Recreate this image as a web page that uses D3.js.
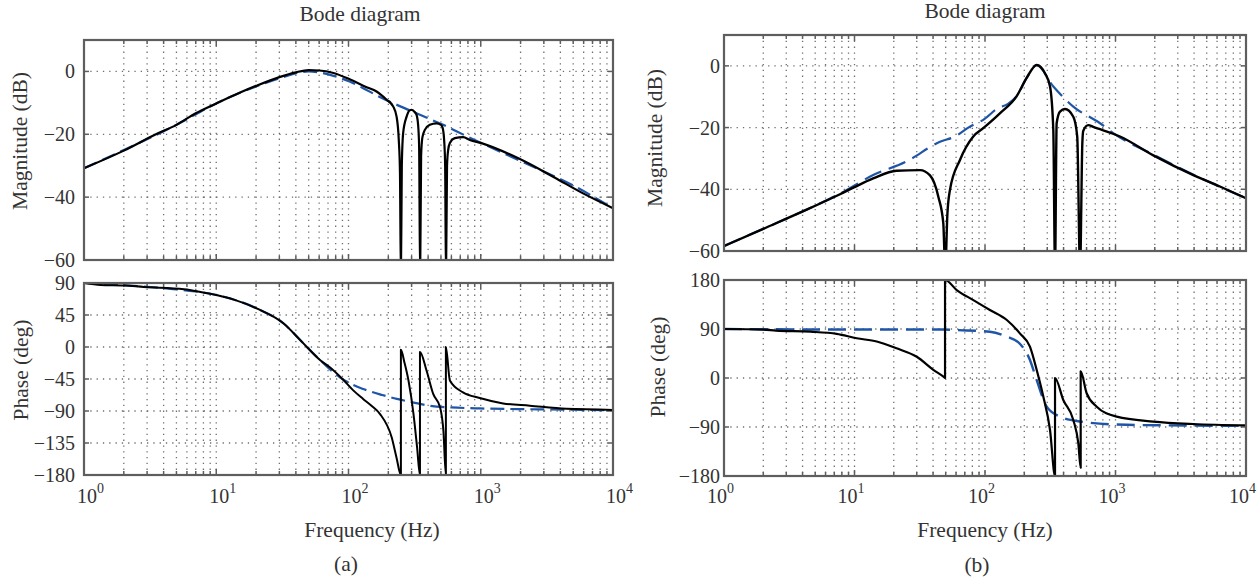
<!DOCTYPE html>
<html><head><meta charset="utf-8">
<script src="https://cdn.jsdelivr.net/npm/d3@7"></script>
<style>
body{margin:0;background:#fff}
svg{display:block}
svg text{font-family:"Liberation Serif","DejaVu Serif","Times New Roman",serif;fill:#333}
</style>
</head><body>
<svg id="chart" width="1259" height="586" font-family="Liberation Serif, DejaVu Serif, serif"></svg>
<script>
// ---------- tick labels ----------
const freqDecades = [1, 10, 100, 1000, 10000];
const decadeExp = ["0", "1", "2", "3", "4"];
const magTicks = [0, -20, -40, -60];
const phaseTicksA = [90, 45, 0, -45, -90, -135, -180];
const phaseTicksB = [180, 90, 0, -90, -180];

// ---------- panel (a) magnitude ----------
const magA_f  = [1, 2, 3.5, 5, 7, 10, 15, 20, 30, 40, 50, 60, 77, 103, 137, 163, 194, 218, 231, 240, 245, 249, 253, 259, 275, 290, 300, 315, 327, 336, 342, 348, 354, 362, 378, 412, 463, 500, 514, 529, 538, 546, 556, 567, 584, 637, 736, 827, 1013, 1977, 3524, 5940, 10000];
const magA_db = [-30.8, -25.2, -20, -17, -13.3, -10.2, -6.8, -4.6, -1.8, -0.3, 0.4, 0.3, -0.5, -2.6, -5, -6.4, -9, -11.2, -14.4, -21.8, -32, -66, -30, -19.6, -14.4, -12.4, -12.2, -12.8, -13.8, -17, -24, -66, -27, -21, -18.6, -17, -16.5, -17, -17.8, -22, -30, -66, -30, -25, -22.8, -21.2, -20.9, -21.8, -22.8, -27.9, -33.5, -38.8, -43.5];
const magA_ref_f  = [1, 2, 5, 10, 20, 30, 40, 50, 60, 77, 102, 130, 163, 220, 291, 400, 520, 781, 1000, 2000, 5000, 10000];
const magA_ref_db = [-30.8, -25, -17, -10.2, -4.8, -2.2, -0.6, 0, -0.3, -1.4, -3.2, -5.4, -7.6, -10.2, -12.4, -14.9, -17, -20.6, -22.7, -28.5, -36.3, -43.5];

// ---------- panel (a) phase ----------
const phA_f   = [1, 1.34, 2, 2.84, 5.7, 7.6, 10.2, 13.6, 20.4, 32.5, 43, 61.5, 72.3, 90, 108.6, 129, 150, 172.6, 212, 231, 249, 249, 265, 284, 310, 330, 347, 347, 389, 437, 493, 522, 545, 545, 584, 734, 983, 1477, 2350, 4448, 10000];
const phA_deg = [90, 87.2, 86.5, 84.4, 81.2, 77.4, 72.7, 66.6, 53.9, 32.7, 10, -19, -28.5, -45, -61, -73, -83, -94, -127, -156, -180, -4, -22, -47, -94, -141, -180, -7, -33, -66, -85, -118, -180, 0, -47, -63.8, -71.7, -79.3, -82.6, -87, -88.5];
const phA_ref_f   = [1, 2, 5, 10.2, 20.4, 32.5, 43, 60, 86, 100, 129, 180, 232, 300, 412, 600, 983, 2350, 10000];
const phA_ref_deg = [90, 87, 81, 73, 54, 32.7, 10, -17, -42.6, -50, -59, -67.5, -73, -77.5, -82.6, -85, -86.4, -87.5, -89];

// ---------- panel (b) magnitude ----------
const magB_f  = [1, 2, 4.3, 7.74, 10, 13.9, 21, 31.8, 37.9, 43.9, 47.9, 49.6, 51.5, 53.9, 64.3, 81.3, 97, 130, 175, 208, 249, 288, 315, 333.8, 344, 354, 375.6, 410, 475, 509, 535, 557, 566.6, 619, 676, 1083, 1950, 3947, 6310, 10000];
const magB_db = [-58.4, -52.8, -46.6, -41.6, -39.3, -36.5, -34, -33.8, -35.5, -42.4, -51, -66, -48, -40.2, -30.5, -22.9, -20.2, -15.4, -9.8, -4, 0.3, -2.4, -6.7, -20.8, -66, -18.6, -14.8, -14, -16.5, -22.9, -66, -25, -21, -19.2, -19.8, -22.9, -29, -35.4, -39.1, -42.9];
const magB_ref_f  = [1, 2, 5, 7.74, 13.9, 25, 45.2, 58.9, 76.6, 97, 126, 150, 175, 208, 249, 334, 475, 761, 960, 2000, 4000, 10000];
const magB_ref_db = [-58.4, -52.8, -45.3, -41.4, -35.4, -31, -24.6, -22.9, -19.7, -17.5, -13.7, -12.3, -9.8, -4, 0.2, -6.7, -13.2, -18.6, -21.8, -29, -35.4, -42.9];

// ---------- panel (b) phase ----------
const phB_f   = [1, 2, 2.5, 4.6, 7.3, 10.4, 14.8, 21, 30, 40.2, 48.3, 49.4, 49.4, 60.7, 81.4, 109, 147, 185, 221, 249, 280, 315, 344, 344, 398, 475, 519, 541, 541, 601, 718, 1021, 1950, 3947, 10000];
const phB_deg = [90, 89, 87, 85, 81, 73, 67, 54.5, 39, 15, 2, 0, 180, 161.6, 143, 125, 106.5, 82, 57.5, 14.7, -34.3, -95.5, -180, 0, -40.4, -77, -120, -165, 12, -28, -52.7, -71, -80, -84.5, -87];
const phB_ref_f   = [1, 10, 49, 60.7, 109, 147, 185, 221, 249, 297, 375, 535, 1219, 10000];
const phB_ref_deg = [90, 89, 89, 88, 85, 76, 63, 33, -4, -52.7, -71, -80, -86, -88];

// ---------- drawing ----------
const svg = d3.select("#chart");
const BLACK = "#000", BLUE = "#1f55a6", FRAME = "#5e5e5e", GRID = "#6f6f6f";
const FONT = "Liberation Serif, DejaVu Serif, serif";
let clipId = 0;

function zip(a, b) { return a.map((v, i) => [v, b[i]]); }

function drawAxes(o) {
  const x = d3.scaleLog().domain([1, 10000]).range([o.x0, o.x1]);
  const y = d3.scaleLinear().domain(o.yDomain).range([o.y1, o.y0]);
  const g = svg.append("g");
  const id = "clip" + (clipId++);
  svg.append("clipPath").attr("id", id).append("rect")
    .attr("x", o.x0).attr("y", o.y0).attr("width", o.x1 - o.x0).attr("height", o.y1 - o.y0);

  const minor = [];
  for (let k = 0; k < 4; k++) for (let m = 1; m <= 9; m++) { const f = m * Math.pow(10, k); if (f > 1) minor.push(f); }
  g.selectAll(".gv").data(minor).join("line")
    .attr("x1", d => x(d)).attr("x2", d => x(d)).attr("y1", o.y0).attr("y2", o.y1)
    .attr("stroke", GRID).attr("stroke-width", 1.3).attr("stroke-dasharray", "1.3,4.5");
  const inner = o.yTicks.filter(t => t > o.yDomain[0] && t < o.yDomain[1]);
  g.selectAll(".gh").data(inner).join("line")
    .attr("x1", o.x0).attr("x2", o.x1).attr("y1", d => y(d)).attr("y2", d => y(d))
    .attr("stroke", GRID).attr("stroke-width", 1.3).attr("stroke-dasharray", "1.3,5");

  minor.forEach(f => {
    const len = freqDecades.includes(f) ? 6 : 4;
    g.append("line").attr("x1", x(f)).attr("x2", x(f)).attr("y1", o.y1).attr("y2", o.y1 - len).attr("stroke", FRAME).attr("stroke-width", 1.5);
    g.append("line").attr("x1", x(f)).attr("x2", x(f)).attr("y1", o.y0).attr("y2", o.y0 + len).attr("stroke", FRAME).attr("stroke-width", 1.5);
  });
  inner.forEach(t => {
    g.append("line").attr("x1", o.x0).attr("x2", o.x0 + 5).attr("y1", y(t)).attr("y2", y(t)).attr("stroke", FRAME).attr("stroke-width", 1.5);
    g.append("line").attr("x1", o.x1).attr("x2", o.x1 - 5).attr("y1", y(t)).attr("y2", y(t)).attr("stroke", FRAME).attr("stroke-width", 1.5);
  });

  g.selectAll(".yl").data(o.yTicks).join("text")
    .attr("x", o.x0 - o.ylGap).attr("y", d => y(d)).attr("dy", "0.35em")
    .attr("text-anchor", "end").attr("font-size", 20).attr("font-family", FONT)
    .text(d => d < 0 ? "\u2212" + Math.abs(d) : String(d));

  const line = d3.line().x(d => x(d[0])).y(d => y(d[1])).curve(d3.curveMonotoneX);
  const sg = svg.append("g").attr("clip-path", `url(#${id})`);
  o.series.forEach(s => {
    sg.append("path").attr("d", line(zip(s.f, s.v))).attr("fill", "none")
      .attr("stroke", s.color).attr("stroke-width", s.w)
      .attr("stroke-dasharray", s.dash || null).attr("stroke-linejoin", "round");
  });

  svg.append("rect").attr("x", o.x0).attr("y", o.y0).attr("width", o.x1 - o.x0).attr("height", o.y1 - o.y0)
    .attr("fill", "none").attr("stroke", FRAME).attr("stroke-width", 2.2);

  svg.append("text").attr("transform", `translate(${o.ylabX},${o.ylabY}) rotate(-90)`)
    .attr("text-anchor", "middle").attr("font-size", 21.5).attr("font-family", FONT).text(o.ylabel);

  if (o.xLabels) {
    freqDecades.forEach((f, i) => {
      const t = svg.append("text").attr("x", x(f) + o.xlOff).attr("y", 503).attr("font-size", 20).attr("font-family", FONT);
      t.append("tspan").text("10");
      t.append("tspan").attr("dy", -10).attr("font-size", 14).text(decadeExp[i]);
    });
  }
}

drawAxes({ x0: 84, x1: 613, y0: 40, y1: 260, yDomain: [-60, 10], yTicks: magTicks, ylGap: 9,
  ylabel: "Magnitude (dB)", ylabX: 27, ylabY: 141,
  series: [
    { f: magA_ref_f, v: magA_ref_db, color: BLUE, w: 2.2, dash: "14,6" },
    { f: magA_f, v: magA_db, color: BLACK, w: 2.2 }
  ] });
drawAxes({ x0: 84, x1: 613, y0: 283, y1: 475, yDomain: [-180, 90], yTicks: phaseTicksA, ylGap: 9,
  ylabel: "Phase (deg)", ylabX: 28, ylabY: 370, xLabels: true, xlOff: -7,
  series: [
    { f: phA_ref_f, v: phA_ref_deg, color: BLUE, w: 2.2, dash: "14,6" },
    { f: phA_f, v: phA_deg, color: BLACK, w: 2 }
  ] });

drawAxes({ x0: 724, x1: 1246, y0: 35, y1: 251, yDomain: [-60, 10], yTicks: magTicks, ylGap: 4,
  ylabel: "Magnitude (dB)", ylabX: 662, ylabY: 138,
  series: [
    { f: magB_ref_f, v: magB_ref_db, color: BLUE, w: 2.2, dash: "18,8" },
    { f: magB_f, v: magB_db, color: BLACK, w: 2.4 }
  ] });
drawAxes({ x0: 724, x1: 1246, y0: 280, y1: 476, yDomain: [-180, 180], yTicks: phaseTicksB, ylGap: 4,
  ylabel: "Phase (deg)", ylabX: 665, ylabY: 367, xLabels: true, xlOff: -17,
  series: [
    { f: phB_ref_f, v: phB_ref_deg, color: BLUE, w: 2.4, dash: "18,8" },
    { f: phB_f, v: phB_deg, color: BLACK, w: 2.2 }
  ] });

function label(x, y, s) {
  svg.append("text").attr("x", x).attr("y", y).attr("text-anchor", "middle")
    .attr("font-size", 21.5).attr("font-family", FONT).text(s);
}
label(360, 21, "Bode diagram");
label(985, 18, "Bode diagram");
label(372, 537, "Frequency (Hz)");
label(985, 537, "Frequency (Hz)");
label(346, 571, "(a)");
label(977, 572, "(b)");
</script>
</body></html>
